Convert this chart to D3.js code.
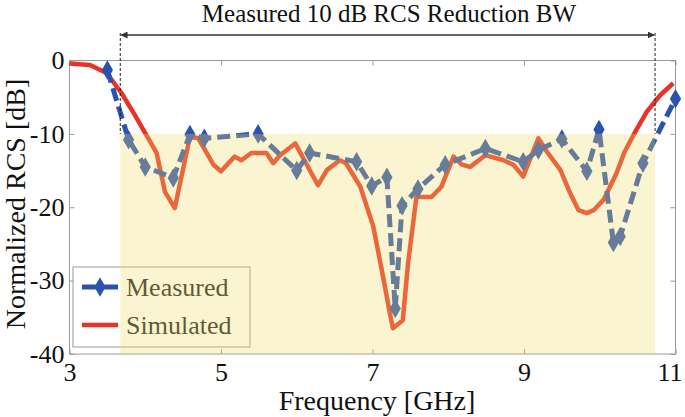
<!DOCTYPE html>
<html><head><meta charset="utf-8">
<script src="https://cdn.jsdelivr.net/npm/d3@7"></script>
<style>body{margin:0;background:#fff}svg{display:block}text{font-family:"Liberation Serif","Times New Roman",serif}</style>
</head><body><svg id="c" width="685" height="417"></svg>
<script>
const xTicks = [3,5,7,9,11];
const yTicks = [0,-10,-20,-30,-40];
const measuredF = [3.5,3.78,4.0,4.37,4.59,4.78,5.49,6.0,6.17,6.79,6.99,7.19,7.3,7.39,7.6,7.96,8.49,8.99,9.19,9.5,9.83,9.99,10.18,10.27,10.57,11.0];
const measuredDB = [-1.3,-10.8,-14.5,-16.0,-10.1,-10.6,-10.0,-15.0,-12.6,-13.8,-17.1,-15.9,-33.8,-19.8,-17.5,-14.2,-12.0,-13.8,-12.2,-10.7,-15.1,-9.4,-24.8,-24.0,-14.0,-5.2];
const simF = [3.0,3.27,3.49,3.69,3.85,4.0,4.15,4.26,4.39,4.59,4.7,4.9,5.0,5.18,5.27,5.4,5.6,5.69,5.78,5.98,6.28,6.4,6.57,6.65,6.84,7.01,7.14,7.23,7.27,7.4,7.47,7.58,7.78,7.91,8.07,8.18,8.29,8.49,8.73,8.86,8.99,9.19,9.3,9.48,9.61,9.72,9.83,9.92,10.05,10.22,10.33,10.47,10.62,10.8,10.97];
const simDB = [-0.4,-0.6,-1.7,-4.5,-7.2,-9.9,-12.6,-17.9,-20.1,-10.4,-10.6,-14.2,-15.1,-13.1,-13.6,-12.6,-12.6,-14.0,-12.9,-11.3,-17.0,-14.9,-13.6,-14.0,-17.2,-22.6,-29.5,-34.5,-36.5,-35.4,-27.6,-18.6,-18.6,-17.2,-13.1,-14.2,-14.5,-12.9,-13.6,-14.2,-15.8,-10.6,-12.4,-14.9,-18.1,-20.4,-20.8,-20.4,-19.0,-15.4,-12.4,-9.7,-7.0,-4.7,-3.1];
const bandF = [3.67,10.73];
const bandDB = [-10,-40];

const svg = d3.select("#c");
const x = d3.scaleLinear().domain([3,11]).range([69.5,675.5]);
const y = d3.scaleLinear().domain([0,-40]).range([60.5,354]);

// frame
const frame = "#9a9a9a";
svg.append("rect").attr("x",x(3)).attr("y",y(0)).attr("width",x(11)-x(3)).attr("height",y(-40)-y(0))
  .attr("fill","none").attr("stroke",frame).attr("stroke-width",1);

// ticks via axes
const ax = (g)=>g.selectAll(".domain").remove();
svg.append("g").attr("transform",`translate(0,${y(-40)})`)
  .call(d3.axisTop(x).tickValues(xTicks).tickSize(5).tickFormat(""))
  .call(ax).selectAll("line").attr("stroke",frame);
svg.append("g").attr("transform",`translate(0,${y(0)})`)
  .call(d3.axisBottom(x).tickValues(xTicks).tickSize(5).tickFormat(""))
  .call(ax).selectAll("line").attr("stroke",frame);
svg.append("g").attr("transform",`translate(${x(3)},0)`)
  .call(d3.axisRight(y).tickValues(yTicks).tickSize(5).tickFormat(""))
  .call(ax).selectAll("line").attr("stroke",frame);
svg.append("g").attr("transform",`translate(${x(11)},0)`)
  .call(d3.axisLeft(y).tickValues(yTicks).tickSize(5).tickFormat(""))
  .call(ax).selectAll("line").attr("stroke",frame);

// tick labels
const xl = svg.append("g").attr("transform",`translate(0,${y(-40)})`)
  .call(d3.axisBottom(x).tickValues(xTicks).tickSize(0).tickPadding(9).tickFormat(d=>String(d)));
xl.select(".domain").remove();
xl.selectAll("text").attr("font-size",26).attr("fill","#111").attr("font-family","Liberation Serif")
  .attr("dx",d=>d===11?-6:0);
const yl = svg.append("g").attr("transform",`translate(${x(3)},0)`)
  .call(d3.axisLeft(y).tickValues(yTicks).tickSize(0).tickPadding(5).tickFormat(d=>String(d)));
yl.select(".domain").remove();
yl.selectAll("text").attr("font-size",26).attr("fill","#111").attr("font-family","Liberation Serif");

// lines
const sim = simF.map((f,i)=>[f,simDB[i]]);
const mea = measuredF.map((f,i)=>[f,measuredDB[i]]);
const line = d3.line().x(d=>x(d[0])).y(d=>y(d[1]));
svg.append("path").datum(sim).attr("d",line).attr("fill","none").attr("stroke","#e8332a").attr("stroke-width",4.5).attr("stroke-linejoin","round");
svg.append("path").datum(mea).attr("d",line).attr("fill","none").attr("stroke","#2c52b0").attr("stroke-width",5).attr("stroke-dasharray","13,6");
const diamond = d3.symbol().type(d3.symbolDiamond).size(110);
svg.append("g").selectAll("path").data(mea).join("path").attr("d",diamond)
  .attr("transform",d=>`translate(${x(d[0])},${y(d[1])})`).attr("fill","#2c52b0");

// legend
const lg = svg.append("g");
lg.append("rect").attr("x",73).attr("y",267).attr("width",177).attr("height",80).attr("fill","#fff").attr("stroke",frame);
lg.append("line").attr("x1",82).attr("x2",118).attr("y1",287).attr("y2",287).attr("stroke","#2c52b0").attr("stroke-width",5);
lg.append("path").attr("d",diamond).attr("transform","translate(100,287)").attr("fill","#2c52b0");
lg.append("text").attr("x",126).attr("y",296).attr("font-size",26).attr("fill","#222").text("Measured");
lg.append("line").attr("x1",82).attr("x2",118).attr("y1",325).attr("y2",325).attr("stroke","#e8332a").attr("stroke-width",4.5);
lg.append("text").attr("x",126).attr("y",334).attr("font-size",26).attr("fill","#222").text("Simulated");

// shaded band overlay
svg.append("rect").attr("x",x(bandF[0])).attr("y",y(bandDB[0])).attr("width",x(bandF[1])-x(bandF[0])).attr("height",y(bandDB[1])-y(bandDB[0]))
  .attr("fill","rgb(240,222,100)").attr("fill-opacity",0.3);

// band markers
svg.append("line").attr("x1",x(bandF[0])).attr("x2",x(bandF[0])).attr("y1",33).attr("y2",y(-10)).attr("stroke","#222").attr("stroke-width",1).attr("stroke-dasharray","3,2");
svg.append("line").attr("x1",x(bandF[1])).attr("x2",x(bandF[1])).attr("y1",33).attr("y2",y(-10)).attr("stroke","#222").attr("stroke-width",1).attr("stroke-dasharray","3,2");
const defs = svg.append("defs");
defs.append("marker").attr("id","ah").attr("viewBox","0 0 10 10").attr("refX",9).attr("refY",5)
  .attr("markerWidth",7).attr("markerHeight",7).attr("orient","auto-start-reverse").attr("markerUnits","userSpaceOnUse")
  .append("path").attr("d","M0,0L10,5L0,10z").attr("fill","#333");
svg.append("line").attr("x1",x(bandF[0])+1).attr("x2",x(bandF[1])-1).attr("y1",35).attr("y2",35)
  .attr("stroke","#333").attr("stroke-width",1.5).attr("marker-start","url(#ah)").attr("marker-end","url(#ah)");
svg.append("text").attr("x",389).attr("y",22).attr("text-anchor","middle").attr("font-size",25).attr("fill","#111").text("Measured 10 dB RCS Reduction BW");

// axis titles
svg.append("text").attr("x",377).attr("y",410).attr("text-anchor","middle").attr("font-size",28).attr("fill","#111").text("Frequency [GHz]");
svg.append("text").attr("transform","translate(25,204) rotate(-90)").attr("text-anchor","middle").attr("font-size",28).attr("fill","#111").text("Normalized RCS [dB]");
</script></body></html>
